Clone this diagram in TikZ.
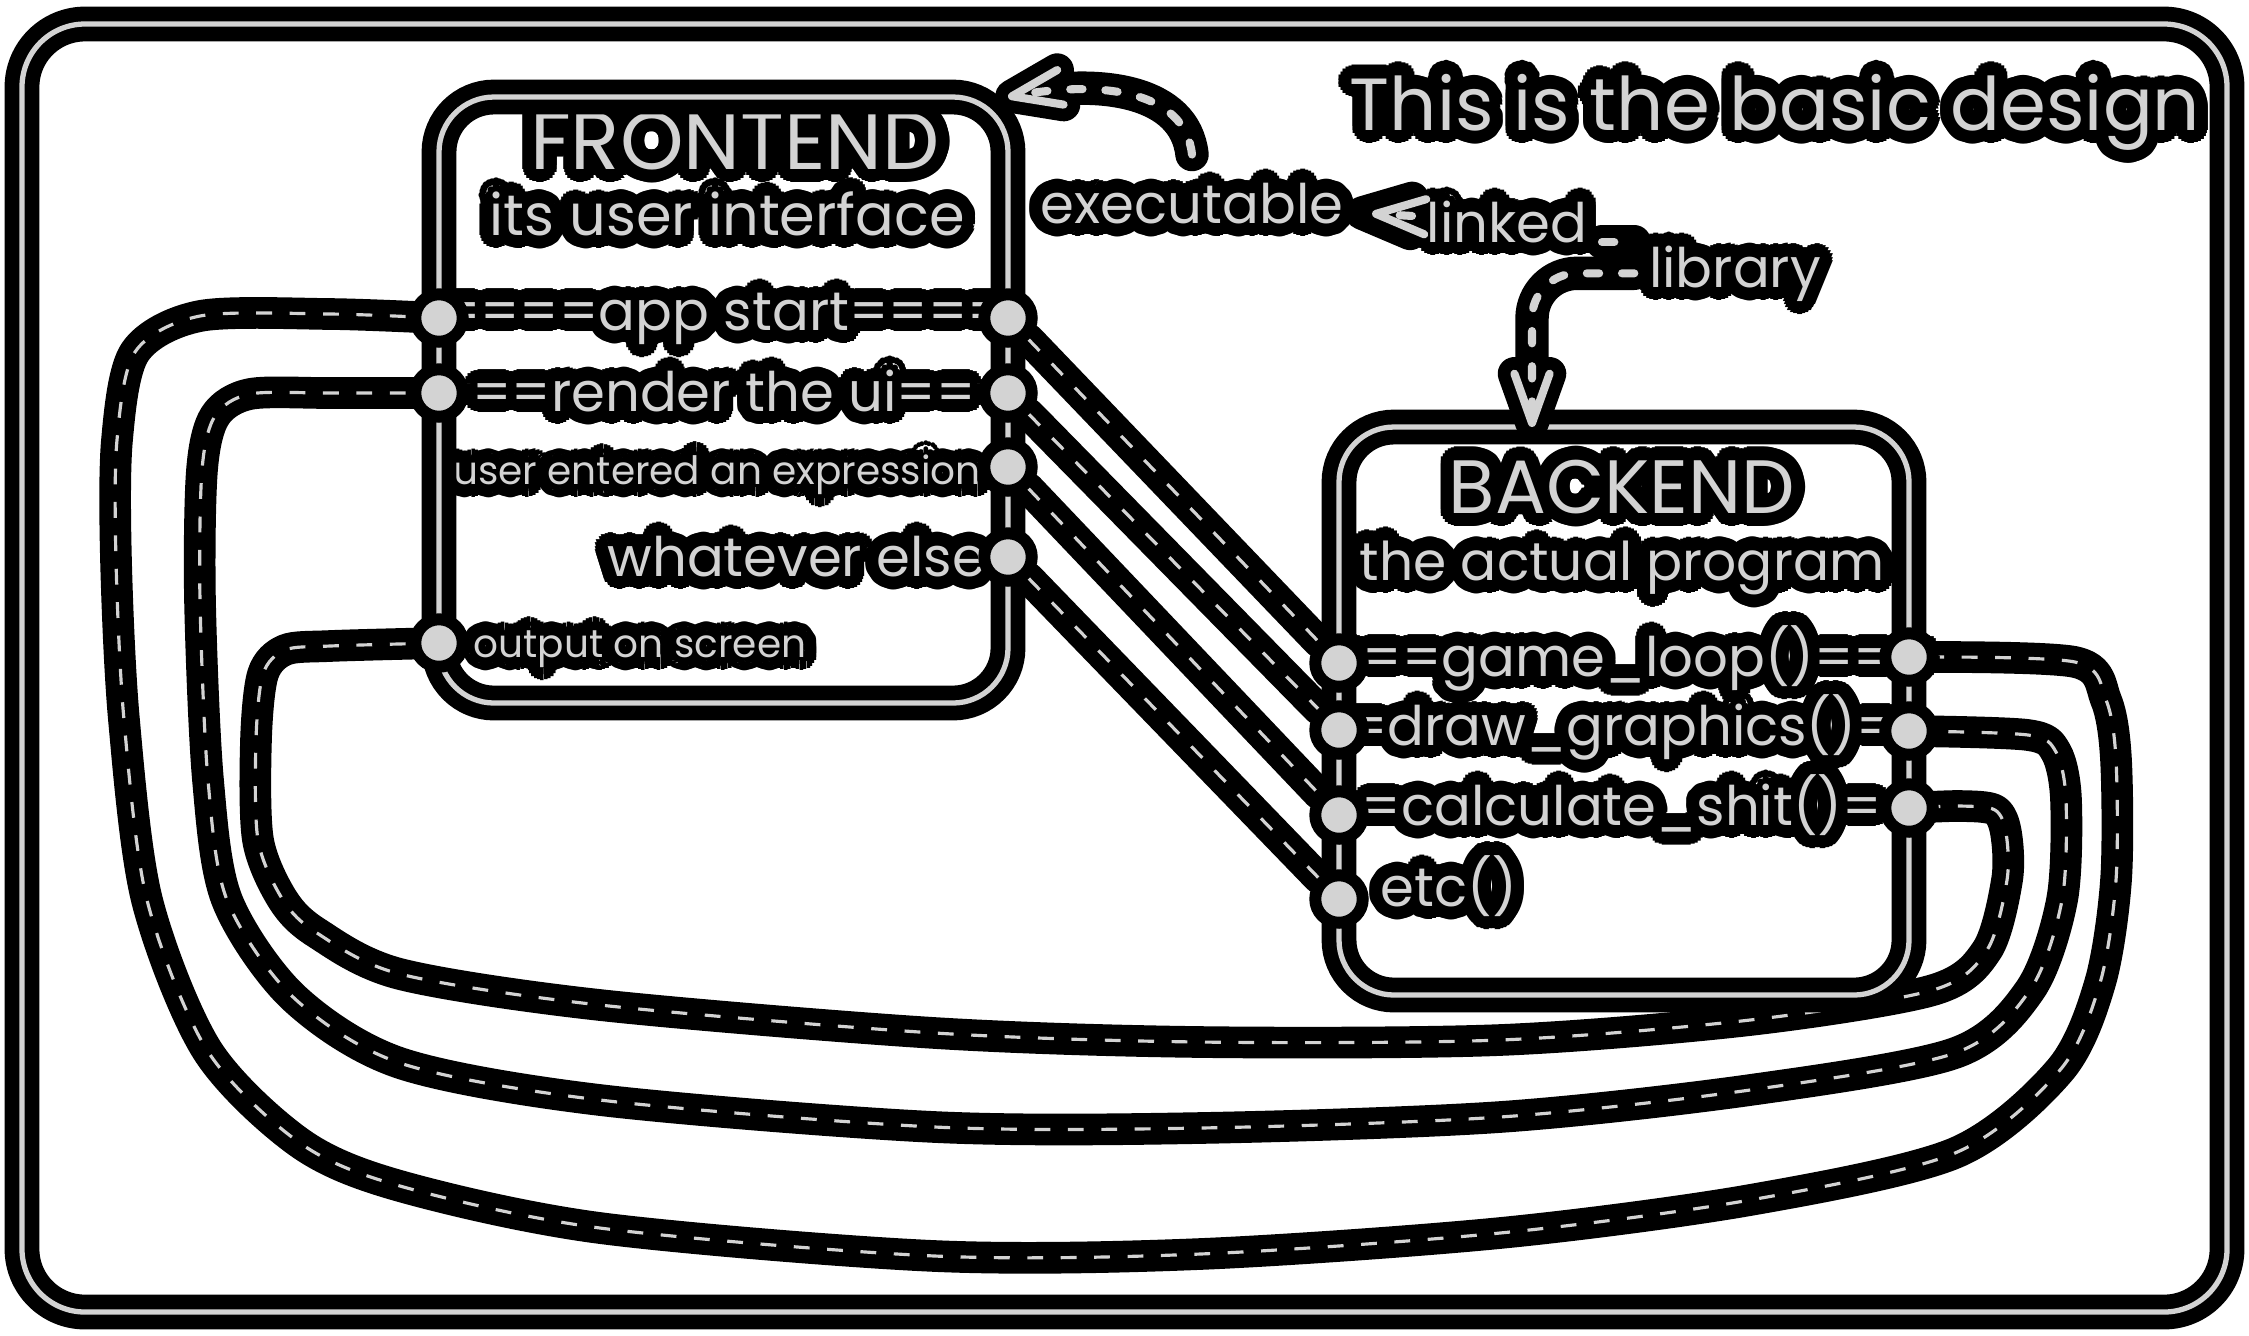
\documentclass[tikz,border=0pt]{standalone}
\usepackage{fontspec}
\setmainfont{Poppins}
\usetikzlibrary{arrows.meta,fit,positioning,backgrounds}
\definecolor{ink}{HTML}{D3D3D3}

% gray text with a black halo round every glyph
\newcommand\halo[1]{%
    \leavevmode{\color{black}%
    \foreach \ang in {0,15,...,345}{%
        \pgfmathsetlengthmacro\hx{3.8pt*cos(\ang)}%
        \pgfmathsetlengthmacro\hy{3.8pt*sin(\ang)}%
        \rlap{\hspace*{\hx}\raisebox{\hy}{#1}}}%
    \foreach \ang in {0,45,...,315}{%
        \pgfmathsetlengthmacro\hx{2pt*cos(\ang)}%
        \pgfmathsetlengthmacro\hy{2pt*sin(\ang)}%
        \rlap{\hspace*{\hx}\raisebox{\hy}{#1}}}}%
    #1}

\begin{document}
\begin{tikzpicture}[x=0.01cm, y=-0.01cm,
        box/.style={draw=black, double=ink, double distance=1.5pt, line width=4.2pt,
                    rounded corners=5.5mm, inner sep=0pt, outer sep=0pt},
        port/.style={circle, draw=black, fill=ink, line width=3.4pt,
                     minimum size=13.5pt, inner sep=0pt},
        lbl/.style={text=ink, inner sep=4pt},
        ttl/.style={font=\fontsize{21}{25}\selectfont},
        hd/.style={font=\fontsize{21.5}{25}\selectfont},
        txt/.style={font=\fontsize{15.5}{18}\selectfont},
        sml/.style={font=\fontsize{11.1}{13}\selectfont},
        conn/.style={draw=ink, line width=0.9pt, dash pattern=on 4.5pt off 5pt,
                     preaction={draw=black, solid, line width=9pt, line cap=round, line join=round}},
        dsh/.style={draw=ink, line width=2.3pt, line cap=round, dash pattern=on 3.5pt off 6.5pt,
                    preaction={draw=black, solid, line width=9.5pt, line cap=round, line join=round}},
        arr/.style={draw=ink, line width=2.3pt, line cap=round, dash pattern=on 3.5pt off 6.5pt,
                    -{Straight Barb[length=14pt, width=10pt, round]},
                    preaction={draw=black, solid, line width=9.5pt, line cap=round, line join=round,
                               -{Straight Barb[length=14pt, width=10pt, round]}, shorten >=-3.6pt}}
    ]
        \useasboundingbox (0,0) rectangle (2249,1335);

        % labels
        \node[lbl, ttl, anchor=base] (title) at (1775,130) {\halo{This is the basic design}};
        \node[lbl, hd, font=\fontsize{23}{27}\selectfont, anchor=base] (fe-name) at (735,169) {\halo{FRONTEND}};
        \node[lbl, txt, font=\fontsize{16.3}{19}\selectfont, anchor=base] (fe-sub) at (727,235) {\halo{its user interface}};
        \node[lbl, txt, anchor=base] (fe-app) at (724,330) {\halo{====app start====}};
        \node[lbl, txt, anchor=base] (fe-ui) at (724,411) {\halo{==render the ui==}};
        \node[lbl, sml, anchor=base] (fe-expr) at (717,484) {\halo{user entered an expression}};
        \node[lbl, txt, anchor=base east] (fe-else) at (1001,576) {\halo{whatever else}};
        \node[lbl, sml, anchor=base west] (fe-out) at (459,657) {\halo{output on screen}};

        \node[lbl, hd, anchor=base] (be-name) at (1622,513) {\halo{BACKEND}};
        \node[lbl, txt, font=\fontsize{15.2}{18}\selectfont, anchor=base] (be-sub) at (1622,580) {\halo{the actual program}};
        \node[lbl, txt, anchor=base] (be-loop) at (1628,676) {\halo{===game\_loop()===}};
        \node[lbl, txt, anchor=base] (be-draw) at (1622,745) {\halo{=draw\_graphics()=}};
        \node[lbl, txt, anchor=base] (be-calc) at (1622,825) {\halo{=calculate\_shit()=}};
        \node[lbl, txt, anchor=base west] (be-etc) at (1366,906) {\halo{etc()}};

        \node[lbl, txt, anchor=base] (exe) at (1192,223) {\halo{executable}};
        \node[lbl, txt, anchor=base] (linked) at (1507,242) {\halo{linked}};
        \node[lbl, txt, anchor=base] (lib) at (1735,287) {\halo{library}};

        % the two parts
        \node[box, fit={(439,97) (1008,703)}] (fe) {};
        \node[box, fit={(1339,427) (1909,995)}] (be) {};

        % ports
        \node[port] (fa-l) at (439,318) {};
        \node[port] (fr-l) at (439,393) {};
        \node[port] (os-l) at (439,643) {};
        \node[port] (fa-r) at (1008,318) {};
        \node[port] (fr-r) at (1008,393) {};
        \node[port] (ue-r) at (1008,467) {};
        \node[port] (we-r) at (1008,557) {};
        \node[port] (gl-l) at (1339,663) {};
        \node[port] (dg-l) at (1339,730) {};
        \node[port] (cs-l) at (1339,815) {};
        \node[port] (etc-l) at (1339,899) {};
        \node[port] (gl-r) at (1909,657) {};
        \node[port] (dg-r) at (1909,731) {};
        \node[port] (cs-r) at (1909,808) {};

        \coordinate (be-in) at (1532,427);

        % build arrows
        \draw[arr] (exe.north) .. controls (1185,90) and (1100,80) .. (fe.north east);
        \draw[arr, shorten >=4pt] (linked) -- (exe);
        \draw[dsh] (linked.base east) -- (linked.base east -| lib.west);
        \draw[arr, rounded corners=4.5mm] (lib.west) -| (be-in);

        \begin{scope}[on background layer]
            \node[box, rounded corners=6.3mm, fit={(22,24) (2227,1312)}] (frame) {};

            % calls across
            \draw[conn] (fa-r) -- (gl-l);
            \draw[conn] (fr-r) -- (dg-l);
            \draw[conn] (ue-r) -- (cs-l);
            \draw[conn] (we-r) -- (etc-l);

            % loops back round
            \draw[conn] plot[smooth, tension=0.5] coordinates {(fa-l) (330,314) (200,316) (135,352)
                (117,440) (116,560) (124,720) (147,900) (207,1050) (300,1143) (400,1186) (600,1228)
                (935,1256) (1200,1254) (1500,1233) (1750,1200) (1955,1153) (2060,1070) (2100,983)
                (2116,880) (2116,760) (2106,700) (2075,662) (gl-r)};
            \draw[conn] plot[smooth, tension=0.5] coordinates {(fr-l) (330,393) (250,394) (215,416)
                (202,470) (200,600) (208,780) (227,900) (293,997) (400,1063) (600,1100) (935,1127)
                (1200,1128) (1500,1117) (1750,1090) (1955,1053) (2030,990) (2062,900) (2066,800)
                (2056,752) (2028,735) (dg-r)};
            \draw[conn] plot[smooth, tension=0.5] coordinates {(os-l) (330,646) (285,650) (263,674)
                (256,740) (258,840) (283,900) (317,933) (400,974) (600,1005) (935,1033) (1200,1042)
                (1500,1040) (1750,1020) (1933,990) (1987,950) (2007,880) (2006,833) (1995,810)
                (1960,806) (cs-r)};
        \end{scope}
\end{tikzpicture}
\end{document}
